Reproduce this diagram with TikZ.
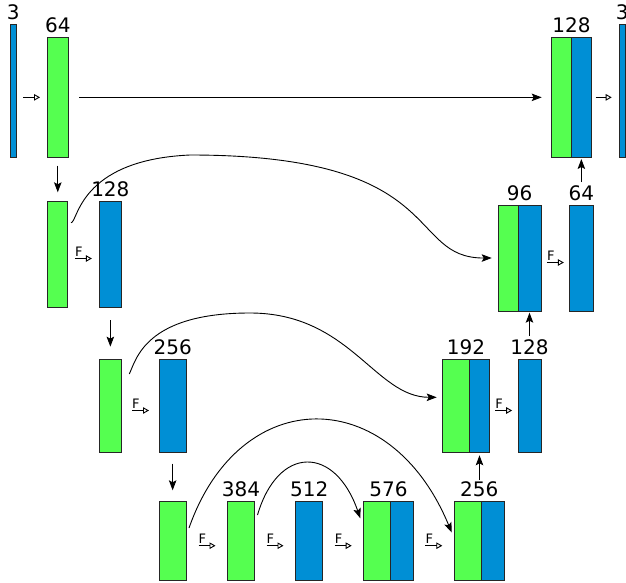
\documentclass[tikz,border=0pt]{standalone}
\usepackage{fontspec}
\setmainfont{DejaVu Sans}
\usetikzlibrary{arrows.meta,calc}
\definecolor{ugreen}{RGB}{85,255,80}
\definecolor{ublue}{RGB}{0,143,213}
\newcommand\FArrow[3]{%
  \coordinate (#1m) at ($(#2.east)!0.5!(#3.west)+(0,4.5)$);
  \draw[oarr] ($(#1m)+(-8.5,0)$) -- ($(#1m)+(8.5,0)$);
  \node[ftxt] (#1) at ($(#1m)+(-8.5,-2)$) {F};}
\newcommand\DArrow[2]{%
  \draw[arr] ($(#1.south)!0.5!(#2.north)+(0,-13.3)$) -- ($(#1.south)!0.5!(#2.north)+(0,13.3)$);}
\begin{document}
\begin{tikzpicture}[x=1pt,y=-1pt,
  blk/.style={draw=black!85, line width=0.9pt, inner sep=0pt, outer sep=0pt},
  gblk/.style={blk, fill=ugreen},
  bblk/.style={blk, fill=ublue},
  lbl/.style={font=\fontsize{20}{20}\selectfont, anchor=base, inner sep=0pt},
  ftxt/.style={font=\fontsize{13}{13}\selectfont, anchor=base west, inner sep=0pt},
  arr/.style={-{Stealth[length=10pt,width=7.5pt,inset=2pt]}, line width=0.9pt},
  oarr/.style={-{Triangle[open,length=6pt,width=6.5pt]}, line width=0.9pt},
]
\useasboundingbox (0,0) rectangle (626,583);
% ---- row 1
\node[bblk, minimum width=6.7pt, minimum height=132.7pt] (b3L) at (13.35,90.65) {};
\node[gblk, minimum width=20.3pt, minimum height=119.3pt] (g64) at (57.85,97.35) {};
\node[gblk, minimum width=20.4pt, minimum height=119.3pt] (r1g) at (561.5,97.35) {};
\node[bblk, minimum width=20pt, minimum height=119.3pt] (r1b) at (581.7,97.35) {};
\node[bblk, minimum width=6.7pt, minimum height=132.7pt] (b3R) at (622.35,90.65) {};
% ---- row 2
\node[gblk, minimum width=20pt, minimum height=106pt] (g2L) at (57.7,254) {};
\node[bblk, minimum width=22.7pt, minimum height=106pt] (b128) at (110.35,254) {};
\node[gblk, minimum width=19.7pt, minimum height=106pt] (r2g) at (508.15,258) {};
\node[bblk, minimum width=23pt, minimum height=106pt] (r2b) at (529.5,258) {};
\node[bblk, minimum width=23.3pt, minimum height=106pt] (b64) at (581.35,258) {};
% ---- row 3
\node[gblk, minimum width=22.7pt, minimum height=92.6pt] (g3L) at (110.35,406) {};
\node[bblk, minimum width=26.7pt, minimum height=92.6pt] (b256) at (172.65,406) {};
\node[gblk, minimum width=27pt, minimum height=92.6pt] (r3g) at (456.2,406) {};
\node[bblk, minimum width=19.6pt, minimum height=92.6pt] (r3b) at (479.5,406) {};
\node[bblk, minimum width=23pt, minimum height=92.6pt] (b128r) at (529.5,406) {};
% ---- row 4
\node[gblk, minimum width=27.3pt, minimum height=79pt] (g4) at (172.65,541.2) {};
\node[gblk, minimum width=26.6pt, minimum height=79pt] (g384) at (241,541.2) {};
\node[bblk, minimum width=27pt, minimum height=79pt] (b512) at (309.2,541.2) {};
\node[gblk, minimum width=27pt, minimum height=79pt] (g576) at (377.2,541.2) {};
\node[bblk, minimum width=22.6pt, minimum height=79pt] (b576) at (402,541.2) {};
\node[gblk, minimum width=27.4pt, minimum height=79pt] (g256) at (468,541.2) {};
\node[bblk, minimum width=22.6pt, minimum height=79pt] (b256r) at (493,541.2) {};
% ---- labels
\node[lbl] (l3a) at ([yshift=5pt]b3L.north) {3};
\node[lbl] (l64a) at ([yshift=5pt]g64.north) {64};
\node[lbl] (l128a) at ($(r1g.north west)!0.5!(r1b.north east)+(0,-5)$) {128};
\node[lbl] (l3b) at ([yshift=5pt]b3R.north) {3};
\node[lbl] (l128b) at ([yshift=5pt]b128.north) {128};
\node[lbl] (l96) at ($(r2g.north west)!0.5!(r2b.north east)+(0,-5)$) {96};
\node[lbl] (l64b) at ([yshift=5pt]b64.north) {64};
\node[lbl] (l256a) at ([yshift=5pt]b256.north) {256};
\node[lbl] (l192) at ($(r3g.north west)!0.5!(r3b.north east)+(0,-5)$) {192};
\node[lbl] (l128c) at ([yshift=5pt]b128r.north) {128};
\node[lbl] (l384) at ([yshift=5pt]g384.north) {384};
\node[lbl] (l512) at ([yshift=5pt]b512.north) {512};
\node[lbl] (l576) at ($(g576.north west)!0.5!(b576.north east)+(0,-5)$) {576};
\node[lbl] (l256b) at ($(g256.north west)!0.5!(b256r.north east)+(0,-5)$) {256};
% ---- plain arrows
\draw[oarr, shorten <=6.6pt, shorten >=7.7pt] (b3L.east |- g64.west) -- (g64.west);
\draw[oarr, shorten <=4pt, shorten >=7.3pt] (r1b.east) -- (r1b.east -| b3R.west);
\draw[arr, shorten <=11.3pt, shorten >=9.6pt] (g64.east) -- (g64.east -| r1g.west);
\DArrow{g64}{g2L}
\DArrow{b128}{g3L}
\DArrow{b256}{g4}
\draw[arr, shorten <=23pt, shorten >=2pt] (b64.north) -- (b64.north |- r1b.south);
\draw[arr, shorten <=23.7pt, shorten >=1.7pt] (b128r.north) -- (b128r.north |- r2b.south);
\draw[arr, shorten <=21.7pt, shorten >=3pt] (r3b.south |- g256.north) -- (r3b.south);
% ---- F arrows
\FArrow{f1}{g2L}{b128}
\FArrow{f2}{r2b}{b64}
\FArrow{f3}{g3L}{b256}
\FArrow{f4}{r3b}{b128r}
\FArrow{f5}{g4}{g384}
\FArrow{f6}{g384}{b512}
\FArrow{f7}{b512}{g576}
\FArrow{f8}{b576}{g256}
% ---- skip curves
\draw[arr] ($(g2L.north east)+(3.3,21.7)$) .. controls (78,223) and (78,160) .. (190,155)
  .. controls (450,155) and (405,258.3) .. ([xshift=-6.6pt]r2g.west);
\draw[arr] ($(g3L.north east)+(7.6,14.3)$) .. controls (136,360) and (145,313) .. (250,313)
  .. controls (350,313) and (375,397.3) .. ($(r3g.west)+(-6,-8.7)$);
\draw[arr] ($(g4.east)+(2.7,-13.2)$) .. controls (240,383) and (390,383) .. ($(g256.west)+(-2.6,-8.7)$);
\draw[arr] ($(g384.east)+(3.2,-26.2)$) .. controls (278,445) and (335,445) .. ($(g576.west)+(-3.4,-22.9)$);
\end{tikzpicture}
\end{document}
